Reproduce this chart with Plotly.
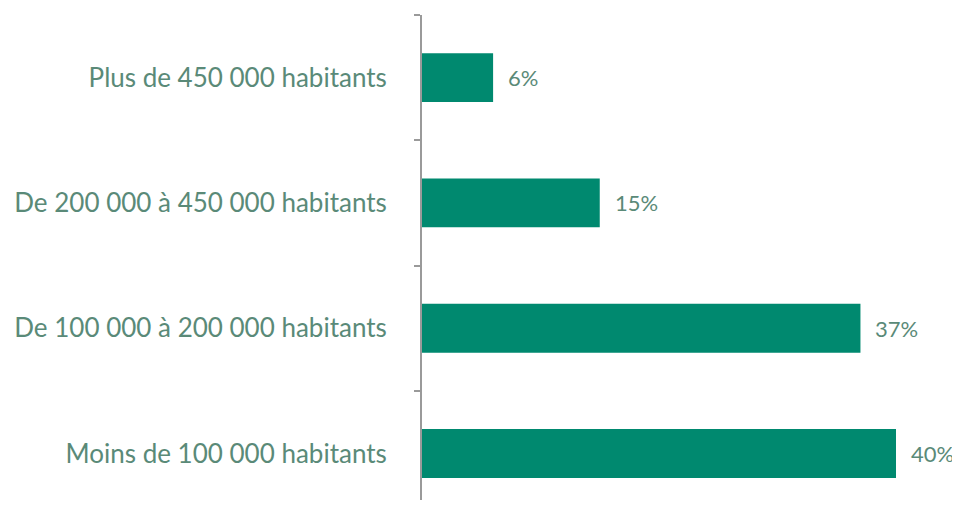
import plotly.graph_objects as go

categories = ["Moins de 100 000 habitants", "De 100 000 à 200 000 habitants",
              "De 200 000 à 450 000 habitants", "Plus de 450 000 habitants"]
values = [40, 37, 15, 6]
value_labels = ["40%", "37%", "15%", "6%"]

text_color = "#5a8a78"
bar_color = "#00896f"

fig = go.Figure(go.Bar(
    y=categories, x=values, orientation="h",
    marker=dict(color=bar_color, line=dict(width=0)),
    width=0.39,
))

for c, v, t in zip(categories, values, value_labels):
    fig.add_annotation(x=v, y=c, text=t, showarrow=False, xanchor="left",
                       xshift=13, font=dict(family="Lato", size=22, color=text_color))

fig.update_layout(
    width=952, height=492,
    margin=dict(l=414, r=0, t=7, b=0),
    plot_bgcolor="white", paper_bgcolor="white",
    showlegend=False,
    font=dict(family="Lato", size=20, color=text_color),
    xaxis=dict(range=[0, 538 / 11.85], visible=False, showgrid=False, zeroline=False),
    yaxis=dict(type="category", categoryorder="array", categoryarray=categories,
               range=[-0.371, 3.5], showline=True, linecolor="#9a9a9a", linewidth=2,
               ticks="outside", tickson="boundaries", ticklen=6, tickcolor="#9a9a9a",
               tickwidth=2, showgrid=False, ticklabelstandoff=28, automargin=False,
               tickfont=dict(family="Lato", size=26, color=text_color)),
)

fig.write_html("out.html")
